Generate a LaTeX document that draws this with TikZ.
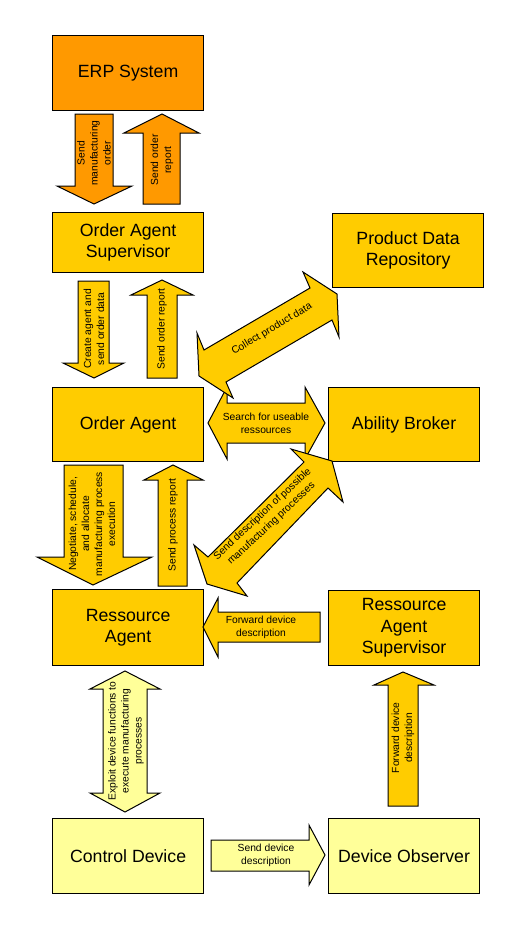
\documentclass[tikz,border=0pt]{standalone}
\usepackage{fontspec}
\setmainfont{Liberation Sans}
\definecolor{erporange}{HTML}{FF9900}
\definecolor{agentyellow}{HTML}{FFCC00}
\definecolor{devyellow}{HTML}{FFFF99}
\newcommand\boxfont{\fontsize{17.7}{21.5}\selectfont}
\newcommand\lblfont{\fontsize{10.3}{13}\selectfont}
\begin{document}
\begin{tikzpicture}[x=1pt,y=-1pt,
  box/.style={draw=black,line width=1.2pt,align=center,font=\boxfont,inner sep=0pt,anchor=north west},
  blockarrow/.style={draw=black,line width=1pt,line join=miter},
  lbl/.style={align=center,font=\lblfont,inner sep=0pt}]
\useasboundingbox[fill=white] (0,0) rectangle (519,937);
% boxes
\node[box,fill=erporange,minimum width=151pt,minimum height=75pt] (erp) at (52,35) {ERP System};
\node[box,fill=agentyellow,minimum width=151pt,minimum height=60pt] (oas) at (52,212) {Order Agent\\Supervisor};
\node[box,fill=agentyellow,minimum width=151pt,minimum height=74pt] (pdr) at (332,213) {Product Data\\Repository};
\node[box,fill=agentyellow,minimum width=151pt,minimum height=74pt] (oa) at (52,387) {Order Agent};
\node[box,fill=agentyellow,minimum width=151pt,minimum height=74pt] (ab) at (328,387) {Ability Broker};
\node[box,fill=agentyellow,minimum width=151pt,minimum height=76pt] (ra) at (52,589) {Ressource\\Agent};
\node[box,fill=agentyellow,minimum width=151pt,minimum height=75pt] (ras) at (328,590) {Ressource\\Agent\\Supervisor};
\node[box,fill=devyellow,minimum width=151pt,minimum height=75pt] (cd) at (52,818) {Control Device};
\node[box,fill=devyellow,minimum width=151pt,minimum height=75pt] (dob) at (328,818) {Device Observer};
% block arrows
\draw[blockarrow,fill=erporange] (75,114) -- (113,114) -- (113,186) -- (132,186) -- (94,204) -- (57,186) -- (75,186) -- cycle;
\draw[blockarrow,fill=erporange] (143,204) -- (180,204) -- (180,133) -- (199,133) -- (162,114) -- (124,133) -- (143,133) -- cycle;
\draw[blockarrow,fill=agentyellow] (78,281) -- (109,281) -- (109,363) -- (124,363) -- (94,378) -- (63,363) -- (78,363) -- cycle;
\draw[blockarrow,fill=agentyellow] (147,378) -- (177,378) -- (177,295) -- (193,295) -- (162,280) -- (131,295) -- (147,295) -- cycle;
\draw[blockarrow,fill=agentyellow] (64,465) -- (123,465) -- (123,557) -- (152,557) -- (93,585) -- (37,557) -- (64,557) -- cycle;
\draw[blockarrow,fill=agentyellow] (158,586) -- (187,586) -- (187,480) -- (203,480) -- (173,465) -- (144,480) -- (158,480) -- cycle;
\draw[blockarrow,fill=agentyellow] (208,423) -- (227,387) -- (227,403) -- (305,403) -- (305,387) -- (325,423) -- (305,459) -- (305,443) -- (227,443) -- (227,459) -- cycle;
\draw[blockarrow,fill=agentyellow] (303,272) -- (337,294) -- (339,337) -- (332,320) -- (226,382) -- (233,398) -- (199,376) -- (197,333) -- (204,350) -- (310,288) -- cycle;
\draw[blockarrow,fill=agentyellow] (291,449) -- (332,461) -- (343,502) -- (328,488) -- (237,583) -- (247,596) -- (207,584) -- (194,545) -- (208,557) -- (304,462) -- cycle;
\draw[blockarrow,fill=agentyellow] (203,627) -- (218,598) -- (218,612) -- (320,612) -- (320,642) -- (218,642) -- (218,657) -- cycle;
\draw[blockarrow,fill=agentyellow] (388,806) -- (418,806) -- (418,685) -- (434,685) -- (403,672) -- (374,685) -- (388,685) -- cycle;
\draw[blockarrow,fill=devyellow] (125,671) -- (160,689) -- (147,689) -- (147,793) -- (160,793) -- (125,812) -- (90,793) -- (103,793) -- (103,689) -- (90,689) -- cycle;
\draw[blockarrow,fill=devyellow] (211,840) -- (309,840) -- (309,825) -- (325,855) -- (309,885) -- (309,871) -- (211,871) -- cycle;
% labels
\node[lbl,rotate=90] (l1) at (94,153) {Send\\manufacturing\\order};
\node[lbl,rotate=90] (l2) at (162,160) {Send order\\report};
\node[lbl,rotate=90] (l3) at (94,329) {Create agent and\\send order data};
\node[lbl,rotate=90] (l4) at (162,329) {Send order report};
\node[lbl,rotate=90] (l5) at (92,524) {Negotiate, schedule,\\and allocate\\manufacturing process\\execution};
\node[lbl,rotate=90] (l6) at (173,525) {Send process report};
\node[lbl] (l7) at (266,423) {Search for useable\\ressources};
\node[lbl,rotate=31] (l12) at (272,329) {Collect product data};
\node[lbl,rotate=43] (l13) at (267,519) {Send description of possible\\manufacturing processes};
\node[lbl] (l8) at (261,627) {Forward device\\description};
\node[lbl,rotate=90] (l9) at (403,738) {Forward device\\description};
\node[lbl,rotate=90] (l10) at (126,741) {Exploit device functions to\\execute manufacturing\\processes};
\node[lbl] (l11) at (266,855) {Send device\\description};
\end{tikzpicture}
\end{document}
